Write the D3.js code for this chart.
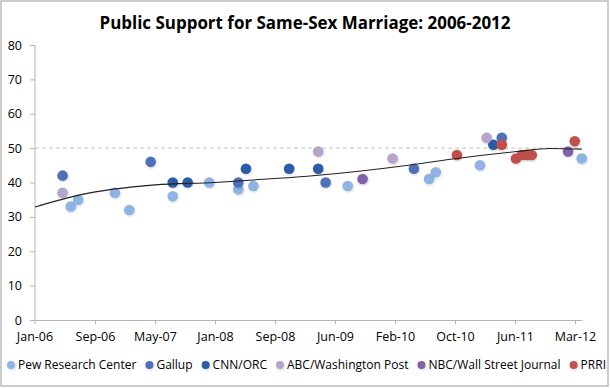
<!DOCTYPE html>
<html>
<head>
<meta charset="utf-8">
<script src="https://cdn.jsdelivr.net/npm/d3@7"></script>
<style>
	body { margin: 0; background: #fff; }
	svg { display: block; font-family: "Open Sans", sans-serif; }
</style>
</head>
<body>
<svg id="chart" width="610" height="388"></svg>
<script>
	// poll results: [date, % support]
	var pew = [["2006-05-30", 33], ["2006-06-30", 35], ["2006-11-30", 37], ["2007-01-29", 32],
		["2007-07-29", 36], ["2007-12-28", 40], ["2008-04-27", 38], ["2008-06-29", 39],
		["2009-07-27", 39], ["2010-07-01", 41], ["2010-07-29", 43], ["2011-01-29", 45],
		["2012-03-28", 47]];
	var gallup = [["2006-04-26", 42], ["2007-04-28", 46], ["2008-04-27", 40], ["2009-04-26", 40],
		["2010-04-29", 44], ["2011-04-30", 53]];
	var cnn = [["2007-07-29", 40], ["2007-09-29", 40], ["2008-05-29", 44], ["2008-11-25", 44],
		["2009-03-26", 44], ["2011-03-26", 51]];
	var abc = [["2006-04-26", 37], ["2009-03-26", 49], ["2010-01-30", 47], ["2011-02-26", 53]];
	var nbc = [["2009-09-27", 41], ["2012-01-31", 49]];
	var prri = [["2010-10-25", 48], ["2011-04-30", 51], ["2011-06-28", 47], ["2011-07-22", 48],
		["2011-08-14", 48], ["2011-09-02", 48], ["2012-02-28", 52]];

	// trendline as drawn in the picture
	var trendDates = ["2006-01-01", "2006-07-07", "2007-05-16", "2008-01-21", "2008-08-23",
		"2009-02-20", "2010-04-14", "2010-10-24", "2011-07-01", "2011-11-17", "2012-03-28"];
	var trendValues = [32.9, 36.4, 39.3, 40.0, 41.0, 41.9, 45.1, 47.0, 49.0, 49.9, 49.7];

	var seriesNames = ["Pew Research Center", "Gallup", "CNN/ORC", "ABC/Washington Post", "NBC/Wall Street Journal", "PRRI"];
	var seriesData = [pew, gallup, cnn, abc, nbc, prri];
	var seriesColors = ["#8db4e3", "#4f70b8", "#2a5ba8", "#b6a5ca", "#8062a8", "#c24f4c"];

	var yTicks = [0, 10, 20, 30, 40, 50, 60, 70, 80];
	var refValue = 50;
	var tickStepDays = 250;

	var parse = d3.utcParse("%Y-%m-%d");
	var start = parse("2006-01-01");
	var end = parse("2012-03-28");
	var tickBase = parse("2006-01-03");

	var svg = d3.select("#chart");

	// outer frame
	svg.append("rect")
		.attr("x", 1).attr("y", 1)
		.attr("width", 607).attr("height", 385)
		.attr("fill", "#fff")
		.attr("stroke", "#bcbcbc")
		.attr("stroke-width", 1.5);

	var defs = svg.append("defs");
	var f = defs.append("filter").attr("id", "shadow")
		.attr("x", "-50%").attr("y", "-50%").attr("width", "200%").attr("height", "200%");
	f.append("feDropShadow")
		.attr("dx", 0.6).attr("dy", 1)
		.attr("stdDeviation", 0.9)
		.attr("flood-color", "#000")
		.attr("flood-opacity", 0.18);

	var x = d3.scaleUtc().domain([start, end]).range([35, 581.7]);
	var y = d3.scaleLinear().domain([0, 80]).range([320, 45]);

	// title
	svg.append("text")
		.attr("x", 305).attr("y", 29)
		.attr("text-anchor", "middle")
		.attr("font-weight", "bold")
		.attr("font-size", 17)
		.attr("textLength", 411)
		.attr("lengthAdjust", "spacingAndGlyphs")
		.attr("fill", "#000")
		.text("Public Support for Same-Sex Marriage: 2006-2012");

	// y axis
	var yAxis = d3.axisLeft(y).tickValues(yTicks).tickSize(5).tickPadding(8);
	var gy = svg.append("g").attr("transform", "translate(35,0)").call(yAxis);

	// x axis, a tick every 250 days
	var xTicks = d3.range(0, 2251, tickStepDays).map(function(d) { return d3.utcDay.offset(tickBase, d); });
	var xAxis = d3.axisBottom(x).tickValues(xTicks).tickFormat(d3.utcFormat("%b-%y"))
		.tickSize(4).tickSizeOuter(0).tickPadding(8);
	var gx = svg.append("g").attr("transform", "translate(0,320)").call(xAxis);
	// first tick sits on the y axis
	gx.selectAll(".tick").attr("transform", function(d, i) {
		return "translate(" + (x(d) - (i === 0 ? x(tickBase) - x(start) : 0)) + ",0)";
	});

	[gx, gy].forEach(function(g) {
		g.select(".domain").attr("stroke", "#b3b3b3");
		g.selectAll(".tick line").attr("stroke", "#b3b3b3");
		g.selectAll(".tick text")
			.attr("fill", "#000")
			.attr("font-size", 12.5)
			.attr("font-family", "Open Sans, sans-serif");
	});
	gy.select(".domain").attr("d", "M0,320V45");

	// dashed 50% reference line
	svg.append("line")
		.attr("x1", x(start)).attr("x2", x(end))
		.attr("y1", y(refValue)).attr("y2", y(refValue))
		.attr("stroke", "#c4c4c4")
		.attr("stroke-width", 1)
		.attr("stroke-dasharray", "4,3");

	// points, series in legend order
	seriesData.forEach(function(data, i) {
		svg.append("g").selectAll("circle")
			.data(data)
			.enter()
			.append("circle")
			.attr("cx", function(d) { return x(parse(d[0])); })
			.attr("cy", function(d) { return y(d[1]); })
			.attr("r", 5.3)
			.attr("fill", seriesColors[i])
			.attr("filter", "url(#shadow)");
	});

	// trendline
	var trend = trendDates.map(function(d, i) { return [parse(d), trendValues[i]]; });
	svg.append("path")
		.datum(trend)
		.attr("fill", "none")
		.attr("stroke", "#222")
		.attr("stroke-width", 1.1)
		.attr("d", d3.line()
			.x(function(d) { return x(d[0]); })
			.y(function(d) { return y(d[1]); })
			.curve(d3.curveMonotoneX));

	// legend, spread across the bottom
	var legend = svg.append("g").attr("transform", "translate(0,365)");
	var items = legend.selectAll("g")
		.data(seriesNames)
		.enter()
		.append("g");
	items.append("circle")
		.attr("r", 4)
		.attr("fill", function(d, i) { return seriesColors[i]; })
		.attr("filter", "url(#shadow)");
	items.append("text")
		.attr("x", 7)
		.attr("dy", "0.35em")
		.attr("font-size", 12)
		.attr("fill", "#000")
		.text(function(d) { return d; });

	var widths = [];
	items.select("text").each(function() { widths.push(8 + 3 + this.getComputedTextLength()); });
	var left = 7, right = 606;
	var gap = (right - left - d3.sum(widths)) / (widths.length - 1);
	var pos = left;
	items.attr("transform", function(d, i) {
		var tx = pos + 4;
		pos += widths[i] + gap;
		return "translate(" + tx + ",0)";
	});
</script>
</body>
</html>
